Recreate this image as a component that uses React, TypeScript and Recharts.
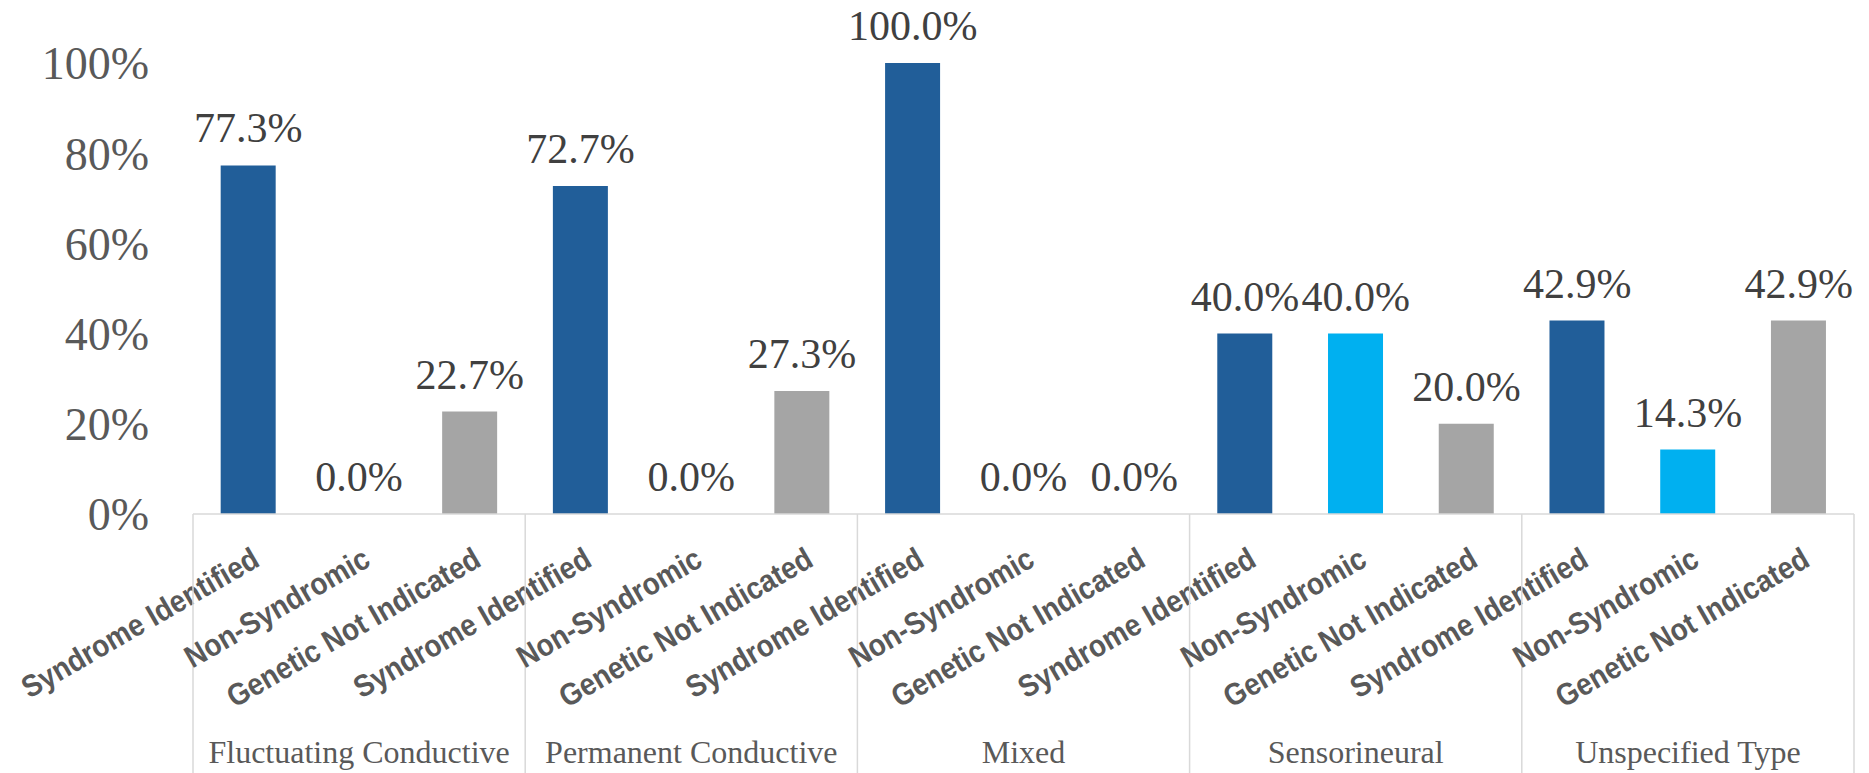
import React from "react";
import { ComposedChart, Bar, Line, XAxis, YAxis, Cell, LabelList } from "recharts";

const groups = ["Fluctuating Conductive", "Permanent Conductive", "Mixed", "Sensorineural", "Unspecified Type"];
const subtypes = ["Syndrome Identified", "Non-Syndromic", "Genetic Not Indicated"];
const syndromeIdentified = [77.3, 72.7, 100.0, 40.0, 42.9];
const nonSyndromic = [0.0, 0.0, 0.0, 40.0, 14.3];
const geneticNotIndicated = [22.7, 27.3, 0.0, 20.0, 42.9];
const subtypeColors = ["#215E99", "#00B0F0", "#A5A5A5"];
const yTicks = [0, 0.2, 0.4, 0.6, 0.8, 1];

const seriesBySubtype = [syndromeIdentified, nonSyndromic, geneticNotIndicated];

const data = groups.flatMap((g, gi) =>
  subtypes.map((s, si) => ({
    key: `${gi}-${si}`,
    name: s,
    group: g,
    subIndex: si,
    value: seriesBySubtype[si][gi] / 100,
  }))
);

const SERIF = "'Times New Roman', 'Liberation Serif', serif";
const SANS = "'Arial Narrow', Arial, 'Liberation Sans', sans-serif";
const BOX = "#D9D9D9";

const CategoryTick = (props: any) => {
  const { x, y, payload } = props;
  const idx = payload?.index ?? props.index ?? 0;
  const item = data[idx];
  const half = typeof payload?.offset === "number" && payload.offset > 0 ? payload.offset : 55.4;
  const h = typeof props.height === "number" ? props.height : 259;
  const ax = x + 13;
  const ay = y + 51;
  return (
    <g>
      <text
        x={0}
        y={0}
        textAnchor="end"
        transform={`translate(${ax},${ay}) rotate(-30) scale(0.9,1)`}
        fontFamily={SANS}
        fontWeight="bold"
        fontSize={31}
        fill="#595959"
      >
        {item.name}
      </text>
      {item.subIndex === 0 && (
        <line x1={x - half} x2={x - half} y1={y} y2={y + h} stroke={BOX} strokeWidth={1.5} />
      )}
      {idx === data.length - 1 && (
        <line x1={x + half} x2={x + half} y1={y} y2={y + h} stroke={BOX} strokeWidth={1.5} />
      )}
      {item.subIndex === 1 && (
        <text x={x} y={y + 249} textAnchor="middle" fontFamily={SERIF} fontSize={32} fill="#595959">
          {item.group}
        </text>
      )}
    </g>
  );
};

export default function App() {
  return (
    <div style={{ position: "absolute", left: 0, top: 0, width: 1869, height: 773, background: "#fff" }}>
      <ComposedChart
        width={1869}
        height={773}
        data={data}
        margin={{ top: 63, right: 15, left: 0, bottom: 0 }}
        barCategoryGap="25%"
      >
        <XAxis
          dataKey="key"
          height={259}
          interval={0}
          tickLine={false}
          tickSize={0}
          tickMargin={0}
          axisLine={{ stroke: BOX, strokeWidth: 1.5 }}
          tick={<CategoryTick />}
        />
        <YAxis
          width={193}
          domain={[0, 1]}
          ticks={yTicks}
          interval={0}
          axisLine={false}
          tickLine={false}
          tickSize={0}
          tickMargin={44}
          tickFormatter={(v: number) => `${Math.round(v * 100)}%`}
          tick={{ fontFamily: SERIF, fontSize: 46, fill: "#595959" }}
        />
        <Bar dataKey="value" isAnimationActive={false}>
          {data.map((d) => (
            <Cell key={d.key} fill={subtypeColors[d.subIndex]} />
          ))}
        </Bar>
        <Line
          dataKey="value"
          stroke="none"
          dot={false}
          activeDot={false}
          legendType="none"
          isAnimationActive={false}
        >
          <LabelList
            dataKey="value"
            position="top"
            offset={23}
            formatter={(v: number) => `${(v * 100).toFixed(1)}%`}
            style={{ fontFamily: SERIF, fontSize: 42, fill: "#404040" }}
          />
        </Line>
      </ComposedChart>
    </div>
  );
}
